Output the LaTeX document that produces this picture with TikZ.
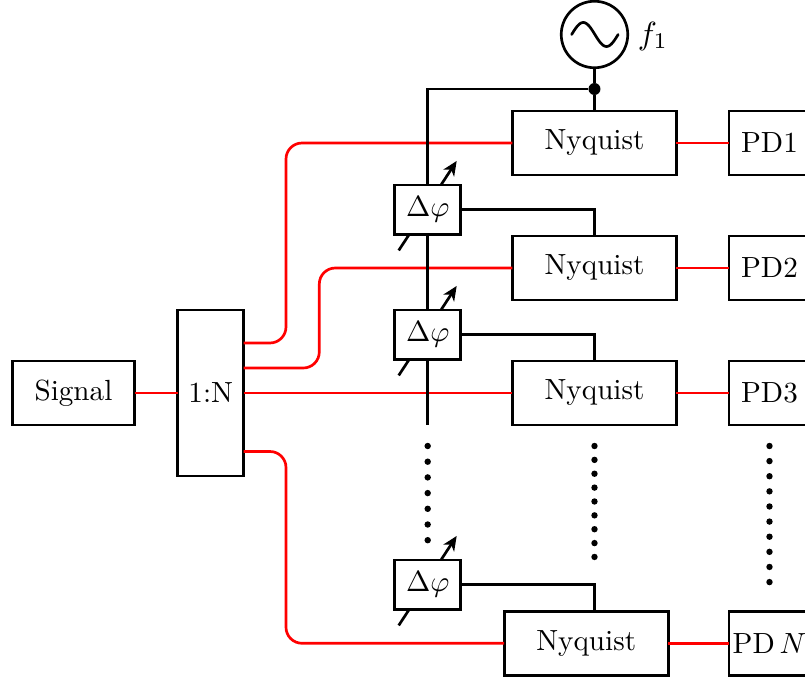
\documentclass[tikz,border=0pt]{standalone}
\usetikzlibrary{calc,arrows.meta}
\tikzset{
  x=0.343pt,y=-0.343pt,
  wire/.style={line width=0.92pt,black},
  rf/.style={line width=0.92pt,red,rounded corners=5.5pt},
  blockbox/.style={draw=black,line width=0.92pt,outer sep=0pt,inner sep=0pt,minimum width=164*0.343pt,minimum height=64*0.343pt},
  pdbox/.style={blockbox,minimum width=81*0.343pt},
  sigbox/.style={blockbox,minimum width=122.5*0.343pt},
  splitbox/.style={blockbox,minimum width=66*0.343pt,minimum height=166*0.343pt},
  phasebox/.style={blockbox,minimum width=66*0.343pt,minimum height=49.5*0.343pt},
  oscnode/.style={draw=black,line width=0.92pt,circle,outer sep=0pt,inner sep=0pt,minimum size=66.5*0.343pt},
  junction/.style={circle,fill=black,outer sep=0pt,inner sep=0pt,minimum size=12*0.343pt},
  tunetip/.style={line width=0.92pt,-{Stealth[length=5pt,width=4.4pt,inset=1.5pt]}},
  dotmark/.style={fill=black,circle,inner sep=0pt,minimum size=6.4*0.343pt}
}
\begin{document}
\begin{tikzpicture}
\clip (0,0) rectangle (805,680);
\useasboundingbox (0,0) rectangle (805,680);
% blocks on the signal path
\node[sigbox] (sig) at (73.5,393) {Signal};
\node[splitbox] (split) at (210.7,393) {1:N};
\node[blockbox] (ny1) at (594.5,143) {Nyquist};
\node[blockbox] (ny2) at (594.5,268) {Nyquist};
\node[blockbox] (ny3) at (594.5,393) {Nyquist};
\node[blockbox] (nyN) at (586.2,643.3) {Nyquist};
\node[pdbox] (pd1) at (769.5,143) {PD1};
\node[pdbox] (pd2) at (769.5,268) {PD2};
\node[pdbox] (pd3) at (769.5,393) {PD3};
\node[pdbox] (pdN) at (769.5,643.3) {PD\,$N$};
% red signal lines
\draw[rf] (sig) -- (split);
\draw[rf] (split.east |- 0,343) -- (286,343) -- (286,143) -- (ny1.west);
\draw[rf] (split.east |- 0,368) -- (319.3,368) -- (319.3,268) -- (ny2.west);
\draw[rf] (split.east) -- (ny3.west);
\draw[rf] (split.east |- 0,451.5) -- (286,451.5) -- (286,643.3) -- (nyN.west);
\draw[rf] (ny1) -- (pd1);
\draw[rf] (ny2) -- (pd2);
\draw[rf] (ny3) -- (pd3);
\draw[rf] (nyN) -- (pdN);
% oscillator
\node[oscnode] (osc) at (594.5,34.5) {};
\node[scale=1.1] (flabel) at (653,36) {$f_1$};
\draw[wire,line cap=round] plot[domain=0:360,samples=50] ({594.9+(\x-180)/360*46.5},{34.5-12*sin(\x)});
\node[junction] (jn) at (594.5,89) {};
% phase shifters
\node[phasebox] (ph1) at (427.7,209.7) {$\Delta\varphi$};
\node[phasebox] (ph2) at (427.7,334.7) {$\Delta\varphi$};
\node[phasebox] (ph3) at (427.7,584.7) {$\Delta\varphi$};
% black control lines
\draw[wire] (osc) -- (jn);
\draw[wire] (jn) -- (ny1.north);
\draw[wire] (jn) -| (ph1.north);
\draw[wire] (ph1.south) -- (ph2.north);
\coordinate (busend) at (ph2 |- ny3.south);
\draw[wire] (ph2.south) -- (busend);
\draw[wire] (ph1.east) -| (ny2.north);
\draw[wire] (ph2.east) -| (ny3.north);
\draw[wire] (ph3.east) -| (ny2 |- nyN.north);
% tuning arrows
\foreach \p in {ph1,ph2,ph3}{
  \draw[tunetip] ($(\p.north)+(13.3,0)$) -- ++(15.7,-24);
  \draw[wire] ($(\p.south)+(-29,16)$) -- ($(\p.south)+(-18.5,0)$);
}
% continuation dots
\foreach \i in {0,...,6} \node[dotmark] (da\i) at (427.7,446+\i*15.7) {};
\foreach \i in {0,...,8} \node[dotmark] (db\i) at (594.5,446+\i*13.87) {};
\foreach \i in {0,...,9} \node[dotmark] (dc\i) at (769.5,446+\i*15.12) {};
\end{tikzpicture}
\end{document}
